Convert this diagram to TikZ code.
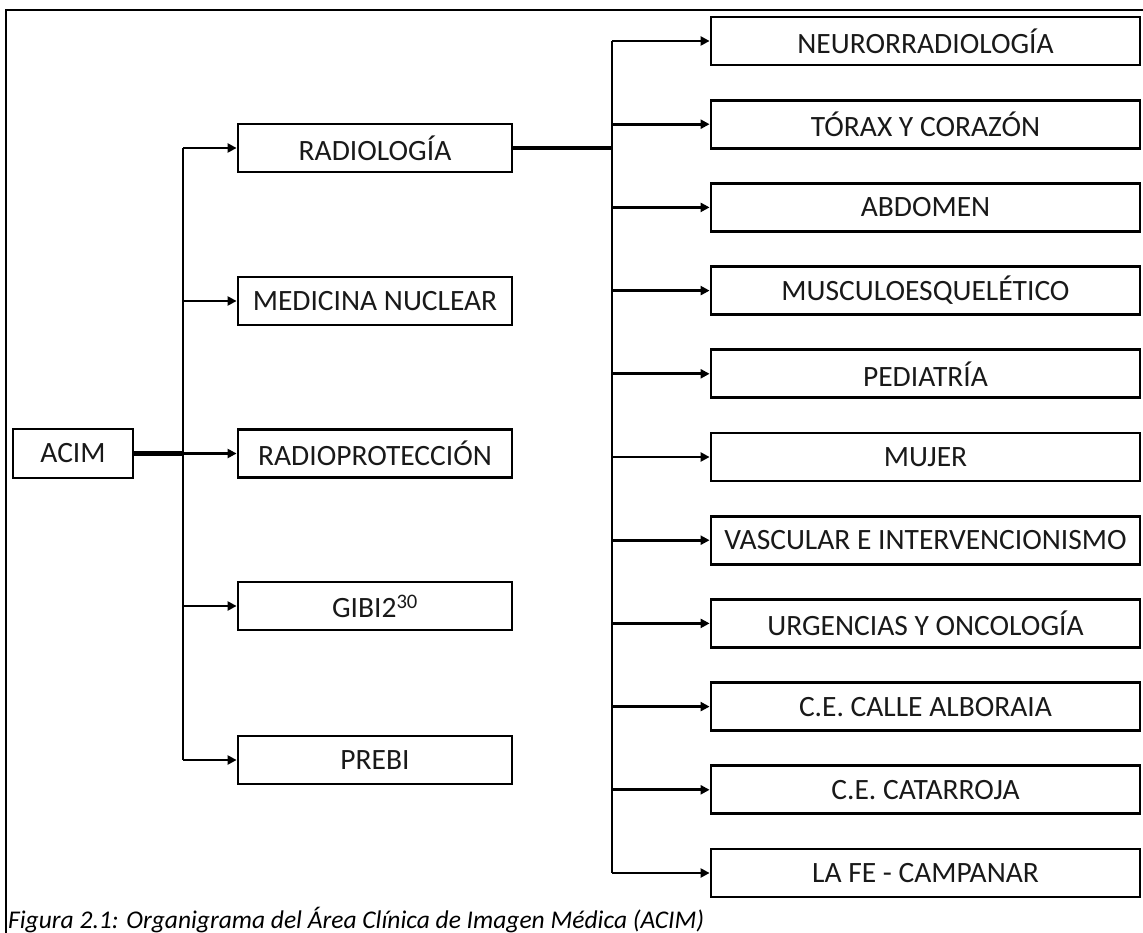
\documentclass[tikz,border=0pt]{standalone}
\usepackage{fontspec}
\setmainfont{Carlito}
\usetikzlibrary{arrows.meta}
\begin{document}
\begin{tikzpicture}[x=1pt,y=-1pt,
  unit/.style={draw, line width=2.8pt, inner sep=0pt, font=\fontsize{29.5}{34}\selectfont,
    text=black!90},
  leftbox/.style={unit, minimum width=274pt, minimum height=48pt},
  rightbox/.style={unit, minimum width=429pt, minimum height=48pt},
  conn/.style={line width=2.8pt, -{Triangle[length=9pt,width=9pt]}},
  bus/.style={line width=2.8pt},
  trunk/.style={line width=4.8pt},
  frameline/.style={line width=2pt}]
\useasboundingbox (0,0) rectangle (1143,933);
% frame
\draw[frameline] (6,933) -- (6,10) -- (1143,10);
% root
\node[unit, minimum width=120pt, minimum height=49pt] (acim) at (73,453.5) {ACIM};
% first level
\node[leftbox] (rad)  at (375,148) {RADIOLOGÍA};
\node[leftbox] (med)  at (375,301) {MEDICINA NUCLEAR};
\node[leftbox] (rpro) at (375,453.5) {RADIOPROTECCIÓN};
\node[leftbox] (gibi) at (375,606) {GIBI2\textsuperscript{30}};
\node[leftbox] (prebi) at (375,760) {PREBI};
% second level
\foreach \name/\txt [count=\i from 0] in {
  neuro/NEURORRADIOLOGÍA, torax/TÓRAX Y CORAZÓN, abd/ABDOMEN,
  musc/MUSCULOESQUELÉTICO, ped/PEDIATRÍA, muj/MUJER,
  vasc/VASCULAR E INTERVENCIONISMO, urg/URGENCIAS Y ONCOLOGÍA,
  alb/C.E. CALLE ALBORAIA, cat/C.E. CATARROJA, fe/LA FE - CAMPANAR}
  \node[rightbox] (\name) at (925.5,{41+83.2*\i}) {\txt};
% buses
\coordinate (lbus) at (183,0);
\coordinate (rbus) at (612,0);
\draw[trunk] (acim.east) -- (lbus |- acim.east);
\draw[bus] (lbus |- rad.west) -- (lbus |- prebi.west);
\foreach \n in {rad,med,rpro,gibi,prebi}
  \draw[conn] (lbus |- \n.west) -- (\n.west);
\draw[trunk] (rad.east) -- (rbus |- rad.east);
\draw[bus] (rbus |- neuro.west) -- (rbus |- fe.west);
\foreach \n in {neuro,torax,abd,musc,ped,muj,vasc,urg,alb,cat,fe}
  \draw[conn] (rbus |- \n.west) -- (\n.west);
% caption
\node[anchor=base west, inner sep=0pt, font=\fontsize{25.5}{30}\selectfont\itshape]
  (cap) at (8,928) {Figura 2.1: Organigrama del Área Clínica de Imagen Médica (ACIM)};
\end{tikzpicture}
\end{document}
